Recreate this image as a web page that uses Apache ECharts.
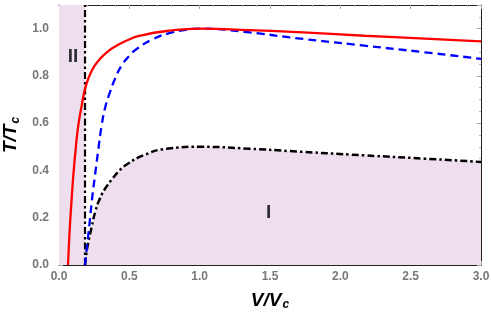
<!DOCTYPE html>
<html>
<head>
<meta charset="utf-8">
<script src="https://cdn.jsdelivr.net/npm/echarts@6/dist/echarts.min.js"></script>
<style>
  html, body { margin: 0; padding: 0; background: #fff; }
  #chart { width: 491px; height: 322px; }
</style>
</head>
<body>
<div id="chart"></div>
<script>
// red solid curve
var redV = [0.064, 0.07, 0.078, 0.09, 0.102, 0.12, 0.137, 0.16, 0.185, 0.216, 0.25, 0.291, 0.35, 0.41, 0.49, 0.576, 0.765, 1.0, 1.35, 1.7, 2.17, 2.6, 3.0];
var redT = [0, 0.08, 0.169, 0.28, 0.38, 0.5, 0.59, 0.67, 0.745, 0.8, 0.84, 0.872, 0.905, 0.928, 0.952, 0.97, 0.99, 1.0, 0.994, 0.985, 0.97, 0.958, 0.946];
// blue dashed curve
var blueV = [0.185, 0.2, 0.216, 0.235, 0.256, 0.28, 0.303, 0.33, 0.362, 0.4, 0.445, 0.5, 0.552, 0.67, 0.79, 0.9, 1.0, 1.357, 1.64, 2.17, 2.6, 3.0];
var blueT = [0, 0.085, 0.169, 0.28, 0.38, 0.49, 0.59, 0.67, 0.73, 0.79, 0.844, 0.885, 0.914, 0.956, 0.982, 0.995, 1.0, 0.984, 0.963, 0.928, 0.9, 0.872];
// black dash-dot curve (upper edge of region I)
var blackV = [0.185, 0.2, 0.232, 0.26, 0.291, 0.33, 0.386, 0.43, 0.481, 0.6, 0.765, 1.0, 1.357, 1.64, 2.17, 2.6, 3.0];
var blackT = [0, 0.07, 0.16, 0.23, 0.281, 0.325, 0.37, 0.4, 0.425, 0.464, 0.492, 0.5, 0.492, 0.482, 0.464, 0.45, 0.436];
// vertical boundary of region II
var wallV = 0.185;
var regionNames = ['II', 'I'];
var regionV = [0.1, 1.49];
var regionT = [0.88, 0.22];

var xTicks = ['0.0', '0.5', '1.0', '1.5', '2.0', '2.5', '3.0'];

var chartDom = document.getElementById('chart');
var myChart = echarts.init(chartDom, null, { renderer: 'canvas' });
var FONT = '"Liberation Sans", Arial, sans-serif';
var shade = '#efdfee';
var dashDot = [7, 3, 2.5, 3];

function pairs(xs, ys) {
    return xs.map(function (x, i) { return [x, ys[i]]; });
}

var tickLabel = { color: '#777', fontWeight: 'bold', fontSize: 12, fontFamily: FONT };
var frameLine = { show: true, onZero: false, lineStyle: { color: '#222', width: 1 } };
var tickIn = { show: true, inside: true, length: 4, lineStyle: { color: '#aaa' } };
var minorIn = { show: true, splitNumber: 5, length: 2, lineStyle: { color: '#bbb' } };
var nameRich = {
    m: { fontSize: 19, fontWeight: 'bold', fontStyle: 'italic', fontFamily: FONT, color: '#000' },
    s: { fontSize: 12, fontWeight: 'bold', fontStyle: 'italic', fontFamily: FONT, color: '#000', padding: [9, 0, 0, 1] }
};

var option = {
    animation: false,
    grid: { left: 59, right: 10, top: 5, bottom: 57, show: false, containLabel: false, outerBoundsMode: 'none' },
    xAxis: [{
        type: 'value', min: 0, max: 3, interval: 0.5,
        name: '{m|V/V}{s|c}', nameLocation: 'middle', nameGap: 25,
        nameTextStyle: { rich: nameRich },
        axisLine: frameLine, axisTick: tickIn,
        minorTick: minorIn,
        axisLabel: Object.assign({ margin: 6, formatter: function (v) { return xTicks[Math.round(v * 2)]; } }, tickLabel),
        splitLine: { show: false }
    }, {
        type: 'value', position: 'top', min: 0, max: 3, interval: 0.5,
        axisLine: frameLine, axisTick: tickIn, minorTick: minorIn,
        axisLabel: { show: false }, splitLine: { show: false }
    }],
    yAxis: [{
        type: 'value', min: 0, max: 1.1, interval: 0.2,
        name: '{m|T/T}{s|c}', nameLocation: 'middle', nameGap: 34, nameRotate: 90,
        nameTextStyle: { rich: nameRich },
        axisLine: frameLine, axisTick: tickIn,
        minorTick: { show: true, splitNumber: 4, length: 2, lineStyle: { color: '#bbb' } },
        axisLabel: Object.assign({ margin: 10, showMaxLabel: false, formatter: function (v) { return v.toFixed(1); } }, tickLabel),
        splitLine: { show: false }
    }, {
        type: 'value', position: 'right', min: 0, max: 1.1, interval: 0.2,
        axisLine: frameLine, axisTick: tickIn,
        minorTick: { show: true, splitNumber: 4, length: 2, lineStyle: { color: '#bbb' } },
        axisLabel: { show: false }, splitLine: { show: false }
    }],
    series: [{
        name: 'region I',
        type: 'line',
        data: pairs(blackV, blackT),
        smooth: 0.5,
        symbol: 'none',
        lineStyle: { color: '#000', width: 2.5, type: dashDot },
        areaStyle: { color: shade, opacity: 1 },
        markArea: {
            silent: true,
            itemStyle: { color: shade },
            data: [[{ xAxis: 0 }, { xAxis: wallV }]]
        },
        z: 3
    }, {
        name: 'wall',
        type: 'line',
        data: [[wallV, 0], [wallV, 1.1]],
        symbol: 'none',
        lineStyle: { color: '#000', width: 2.2, type: dashDot },
        z: 4
    }, {
        name: 'blue',
        type: 'line',
        data: pairs(blueV, blueT),
        smooth: 0.5,
        symbol: 'none',
        lineStyle: { color: '#0000ff', width: 2.3, type: [8, 5] },
        z: 5
    }, {
        name: 'red',
        type: 'line',
        data: pairs(redV, redT),
        smooth: 0.5,
        symbol: 'none',
        lineStyle: { color: '#ff0000', width: 2.3 },
        z: 6
    }, {
        name: 'labels',
        type: 'scatter',
        symbolSize: 0,
        data: regionNames.map(function (n, i) { return { name: n, value: [regionV[i], regionT[i]] }; }),
        label: {
            show: true, position: 'inside', formatter: '{b}',
            fontSize: 19, fontWeight: 'bold', fontFamily: FONT, color: '#000'
        },
        z: 7
    }]
};

option && myChart.setOption(option);
</script>
</body>
</html>
